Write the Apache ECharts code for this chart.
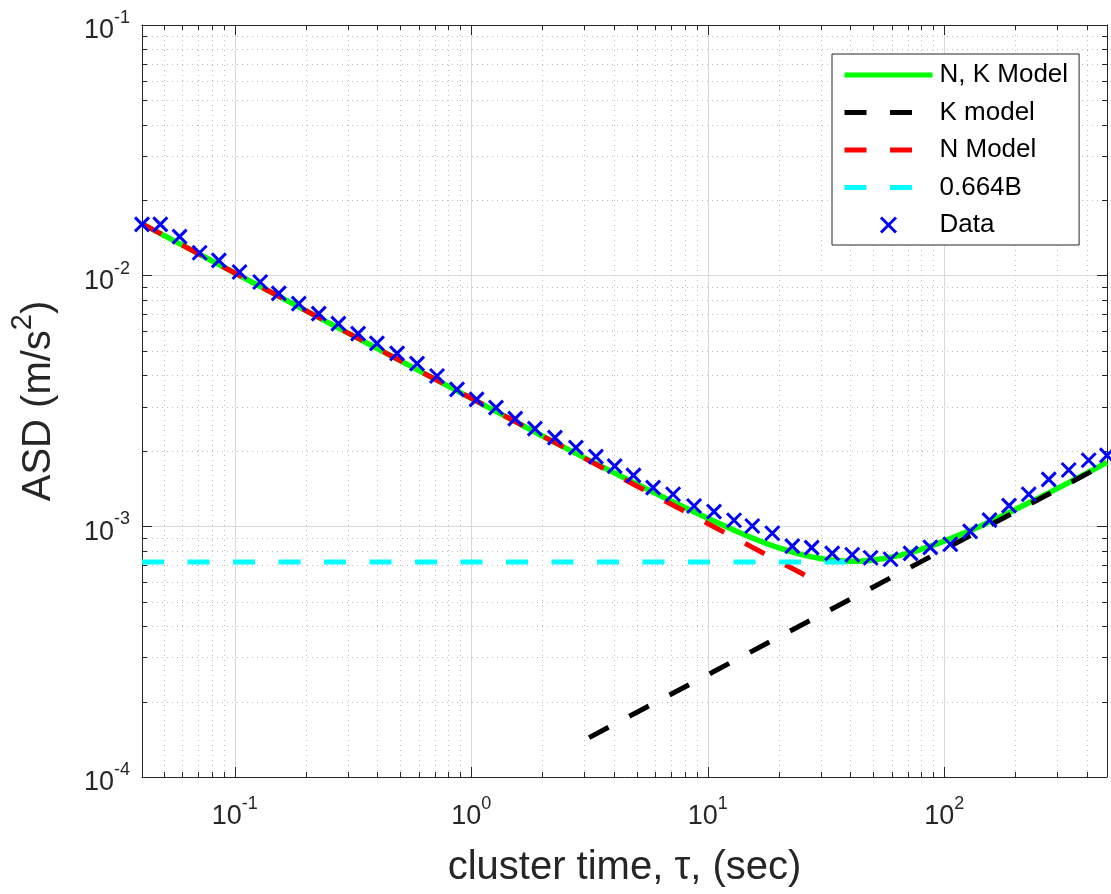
<!DOCTYPE html>
<html><head><meta charset="utf-8">
<script src="https://cdn.jsdelivr.net/npm/echarts@6/dist/echarts.min.js"></script>
<style>html,body{margin:0;padding:0;background:#fff}#c{width:1111px;height:894px}</style>
</head><body><div id="c"></div>
<script>
// ---- data ----
const tauData = [0.0405, 0.0484, 0.0584, 0.0710, 0.0856, 0.1047, 0.1280, 0.1534, 0.1864, 0.2264,
  0.2742, 0.3322, 0.3989, 0.4855, 0.5897, 0.7163, 0.8700, 1.053, 1.272, 1.534,
  1.858, 2.258, 2.769, 3.364, 4.040, 4.851, 5.874, 7.136, 8.752, 10.63,
  12.92, 15.43, 18.75, 22.78, 27.51, 33.60, 40.83, 48.83, 59.31, 72.05,
  87.36, 106.1, 128.7, 155.4, 188.0, 227.8, 276.7, 336.1, 408.3, 487.8];
const asdData = [0.01602, 0.01602, 0.01431, 0.01235, 0.01151, 0.01034, 0.009430, 0.008500, 0.007731, 0.007053,
  0.006434, 0.005869, 0.005370, 0.004898, 0.004457, 0.003977, 0.003519, 0.003211, 0.002976, 0.002690,
  0.002453, 0.002258, 0.002060, 0.001897, 0.001739, 0.001597, 0.001427, 0.001342, 0.001205, 0.001145,
  0.001057, 0.001003, 0.000938, 0.000834, 0.000822, 0.000780, 0.000770, 0.000749, 0.000739, 0.000780,
  0.000824, 0.000848, 0.000955, 0.001059, 0.001209, 0.001342, 0.001540, 0.001677, 0.001834, 0.001919];
const nkTau = [0.0405, 0.1, 0.3, 1, 2, 3, 5, 7, 10, 13, 16, 20, 25, 30, 35, 40, 45, 50, 60, 70, 85, 100, 130, 160, 200, 250, 300, 400, 488];
const nkVal = [0.01610, 0.01025, 0.005916, 0.003241, 0.002294, 0.001880, 0.001475, 0.001262, 0.001076, 0.000962,
  0.000886, 0.000820, 0.000771, 0.000744, 0.000730, 0.000725, 0.000727, 0.000734, 0.000754, 0.000780,
  0.000826, 0.000873, 0.000966, 0.001056, 0.001168, 0.001296, 0.001414, 0.001628, 0.001800];
const kTau = [3.15, 488];
const kVal = [0.0001436, 0.001787];
const nTau = [0.0405, 26];
const nVal = [0.0161, 0.000636];
const bTau = [0.0405, 40];
const bVal = [0.00072, 0.00072];
const seriesNames = ['N, K Model', 'K model', 'N Model', '0.664B', 'Data'];
const xTitle = 'cluster time, τ, (sec)';
const yTitleMain = 'ASD (m/s';
const yTitleSup = '2';
// minor grid positions (log decades)
const minorX = [0.05,0.06,0.07,0.08,0.09, 0.2,0.3,0.4,0.5,0.6,0.7,0.8,0.9, 2,3,4,5,6,7,8,9, 20,30,40,50,60,70,80,90, 200,300,400];
const minorY = [2e-4,3e-4,4e-4,5e-4,6e-4,7e-4,8e-4,9e-4, 2e-3,3e-3,4e-3,5e-3,6e-3,7e-3,8e-3,9e-3, 2e-2,3e-2,4e-2,5e-2,6e-2,7e-2,8e-2,9e-2];

const FONT = "'Liberation Sans', Arial, Helvetica, sans-serif";
const TXT = '#262626';
const zip = (a, b) => a.map((v, i) => [v, b[i]]);

function powLabel(v) {
  const e = Math.log10(v);
  const r = Math.round(e);
  if (Math.abs(e - r) > 1e-6) return '';
  return '{b|10}{s|' + r + '}';
}

function renderMinor(params, api) {
  const cs = params.coordSys;
  const kind = api.value(2);
  const dot = { stroke: '#bdbdbd', lineWidth: 1, lineDash: [1, 4] };
  const tk = { stroke: TXT, lineWidth: 1 };
  if (kind === 0) {
    const x = Math.round(api.coord([api.value(0), 1e-3])[0]) + 0.5;
    const y0 = cs.y, y1 = cs.y + cs.height;
    return { type: 'group', children: [
      { type: 'line', shape: { x1: x, y1: y0, x2: x, y2: y1 }, style: dot },
      { type: 'line', shape: { x1: x, y1: y1, x2: x, y2: y1 - 5 }, style: tk },
      { type: 'line', shape: { x1: x, y1: y0, x2: x, y2: y0 + 5 }, style: tk }
    ]};
  } else {
    const y = Math.round(api.coord([1, api.value(1)])[1]) + 0.5;
    const x0 = cs.x, x1 = cs.x + cs.width;
    return { type: 'group', children: [
      { type: 'line', shape: { x1: x0, y1: y, x2: x1, y2: y }, style: dot },
      { type: 'line', shape: { x1: x0, y1: y, x2: x0 + 5, y2: y }, style: tk },
      { type: 'line', shape: { x1: x1, y1: y, x2: x1 - 5, y2: y }, style: tk }
    ]};
  }
}
const minorData = minorX.map(v => [v, 1e-3, 0]).concat(minorY.map(v => [1, v, 1]));

const chart = echarts.init(document.getElementById('c'), null, { renderer: 'canvas' });
const baseX = {
  type: 'log', logBase: 10, min: 0.0405, max: 488,
  axisLine: { show: true, lineStyle: { color: TXT, width: 1 } },
  axisTick: { show: true, inside: true, length: 10, lineStyle: { color: TXT } },
  splitLine: { show: false },
  axisLabel: { show: false }
};
const baseY = {
  type: 'log', logBase: 10, min: 1e-4, max: 1e-1,
  axisLine: { show: true, lineStyle: { color: TXT, width: 1 } },
  axisTick: { show: true, inside: true, length: 10, lineStyle: { color: TXT } },
  splitLine: { show: false },
  axisLabel: { show: false }
};
const xDash = [22, 23.5];
const hideSym = { opacity: 0, color: 'rgba(0,0,0,0)', borderWidth: 0 };

chart.setOption({
  animation: false,
  backgroundColor: '#fff',
  grid: { left: 142, right: 4, top: 25, bottom: 117, containLabel: false },
  xAxis: [
    Object.assign({}, baseX, {
      position: 'bottom',
      splitLine: { show: true, lineStyle: { color: '#d9d9d9', width: 1 } },
      axisLabel: {
        show: true, margin: 18, formatter: powLabel,
        rich: {
          b: { fontSize: 27, fontFamily: FONT, color: TXT, lineHeight: 44 },
          s: { fontSize: 18, fontFamily: FONT, color: TXT, lineHeight: 16, verticalAlign: 'top' }
        }
      },
      name: xTitle, nameLocation: 'middle', nameGap: 70,
      nameTextStyle: { fontSize: 40, fontFamily: FONT, color: TXT, lineHeight: 42 }
    }),
    Object.assign({}, baseX, { position: 'top' })
  ],
  yAxis: [
    Object.assign({}, baseY, {
      position: 'left',
      splitLine: { show: true, lineStyle: { color: '#d9d9d9', width: 1 } },
      axisLabel: {
        show: true, margin: 12, formatter: powLabel, padding: [12, 0, 0, 0],
        rich: {
          b: { fontSize: 27, fontFamily: FONT, color: TXT, lineHeight: 44 },
          s: { fontSize: 18, fontFamily: FONT, color: TXT, lineHeight: 27, verticalAlign: 'top' }
        }
      },
      name: '{a|' + yTitleMain + '}{s|' + yTitleSup + '}{a|)}', nameLocation: 'middle', nameGap: 72,
      nameTextStyle: {
        rich: {
          a: { fontSize: 40, fontFamily: FONT, color: TXT, lineHeight: 62 },
          s: { fontSize: 29, fontFamily: FONT, color: TXT, lineHeight: 27, verticalAlign: 'top' }
        }
      }
    }),
    Object.assign({}, baseY, { position: 'right' })
  ],
  legend: {
    orient: 'vertical', left: 832, top: 54,
    padding: [6, 11, 5, 10],
    backgroundColor: '#fff', borderColor: TXT, borderWidth: 1,
    itemWidth: 88, itemHeight: 15, itemGap: 7.5,
    data: [
      { name: seriesNames[0], itemStyle: hideSym },
      { name: seriesNames[1], itemStyle: hideSym },
      { name: seriesNames[2], itemStyle: hideSym },
      { name: seriesNames[3], itemStyle: hideSym },
      { name: seriesNames[4], itemStyle: { opacity: 1 } }
    ],
    textStyle: { fontSize: 26, fontFamily: FONT, color: '#000', lineHeight: 30, padding: [0, 0, 0, 2] },
    lineStyle: { width: 5 },
    itemStyle: { borderWidth: 3 },
    selectedMode: false
  },
  series: [
    { type: 'custom', name: 'minor', silent: true, z: 1, renderItem: renderMinor, data: minorData,
      encode: { x: 0, y: 1 }, clip: false },
    { type: 'line', name: seriesNames[0], data: zip(nkTau, nkVal), symbol: 'none', smooth: 0.3,
      lineStyle: { color: '#00ff00', width: 5.5 }, itemStyle: { color: '#00ff00' }, z: 2 },
    { type: 'line', name: seriesNames[1], data: zip(kTau, kVal), symbol: 'none',
      lineStyle: { color: '#000000', width: 5, type: xDash }, itemStyle: { color: '#000000' }, z: 2 },
    { type: 'line', name: seriesNames[2], data: zip(nTau, nVal), symbol: 'none',
      lineStyle: { color: '#ff0000', width: 5, type: xDash }, itemStyle: { color: '#ff0000' }, z: 2 },
    { type: 'line', name: seriesNames[3], data: zip(bTau, bVal), symbol: 'none',
      lineStyle: { color: '#00ffff', width: 5, type: xDash }, itemStyle: { color: '#00ffff' }, z: 2 },
    { type: 'scatter', name: seriesNames[4], data: zip(tauData, asdData), clip: false,
      symbol: 'path://M0,0L10,10M10,0L0,10', symbolSize: 14,
      itemStyle: { color: 'rgba(0,0,0,0)', borderColor: '#0000ff', borderWidth: 3, opacity: 1 }, z: 3 }
  ]
});
</script>
</body></html>
